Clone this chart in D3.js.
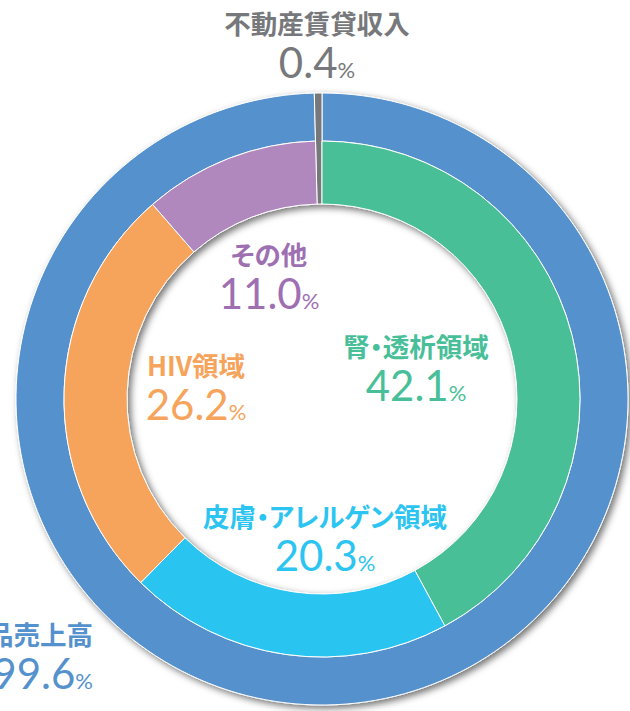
<!DOCTYPE html>
<html>
<head>
	<meta charset="utf-8">
	<title>売上構成</title>
	<style>
		html, body { margin: 0; padding: 0; background: #fff; overflow: hidden; }
		.cap { font-family: "Noto Sans CJK JP", sans-serif; font-weight: 700; font-size: 26.5px; font-feature-settings: "palt"; }
		.num { font-family: Lato, "Noto Sans", sans-serif; font-size: 42px; }
		.pct { font-size: 22px; }
	</style>
</head>
<body>
	<svg width="630" height="711"></svg>
<script src="https://cdn.jsdelivr.net/npm/d3@7"></script>
<script>
	// 外側：売上の内訳
	const outerNames  = ["製品売上高", "不動産賃貸収入"]
	const outerValues = [99.6, 0.4]
	// 内側：製品売上高の領域別
	const innerNames  = ["腎・透析領域", "皮膚・アレルゲン領域", "HIV領域", "その他"]
	const innerValues = [42.1, 20.3, 26.2, 11.0]

	const colors = {
		"製品売上高": "#5591cc", "不動産賃貸収入": "#77787b",
		"腎・透析領域": "#48bf98", "皮膚・アレルゲン領域": "#2cc4f1",
		"HIV領域": "#f6a35b", "その他": "#b088bd"
	}
	const textColors = Object.assign({}, colors, { "その他": "#9e70b1" })
	// ラベル位置（中心からのずれ）
	const labelPos = {
		"不動産賃貸収入": [-5, -365, "middle"],
		"製品売上高": [-229, 246, "end"],
		"腎・透析領域": [94, -42, "middle"],
		"皮膚・アレルゲン領域": [3, 128, "middle"],
		"HIV領域": [-126, -23, "middle"],
		"その他": [-53, -134, "middle"]
	}

	const cx = 322, cy = 399
	const R = 306, rMid = 258, rHole = 195

	const svg = d3.select("svg")
	const defs = svg.append("defs")
	const f = defs.append("filter").attr("id", "shadow")
		.attr("x", "-10%").attr("y", "-10%").attr("width", "120%").attr("height", "120%")
	f.append("feDropShadow").attr("dx", 3).attr("dy", 3).attr("stdDeviation", 3.5)
		.attr("flood-color", "#000").attr("flood-opacity", 0.55)

	const g = svg.append("g").attr("transform", `translate(${cx},${cy})`)
	const rings = g.append("g").attr("filter", "url(#shadow)")

	const pie = d3.pie().sort(null).value(d => d.value)
	const outer = pie(outerNames.map((n, i) => ({ name: n, value: outerValues[i] })))
	// 内側は不動産の分も含めて角度を合わせる
	const innerData = innerNames.map((n, i) => ({ name: n, value: innerValues[i] }))
		.concat([{ name: outerNames[1], value: outerValues[1] }])
	const inner = pie(innerData).filter(d => d.data.name !== outerNames[1])

	const arc = d3.arc()
	rings.selectAll("path.outer").data(outer).enter().append("path")
		.attr("class", "outer")
		.attr("fill", d => colors[d.data.name])
		.attr("stroke", "#fff").attr("stroke-width", 1)
		.attr("d", d => arc.innerRadius(d.index === 1 ? rHole : rMid).outerRadius(R)(d))
	rings.selectAll("path.inner").data(inner).enter().append("path")
		.attr("class", "inner")
		.attr("fill", d => colors[d.data.name])
		.attr("stroke", "#fff").attr("stroke-width", 1)
		.attr("d", d => arc.innerRadius(rHole).outerRadius(rMid)(d))
	// 灰色を上に
	rings.select("path.outer:last-of-type").raise()

	// ラベル
	const labels = outerNames.map((n, i) => ({ name: n, value: outerValues[i] }))
		.concat(innerNames.map((n, i) => ({ name: n, value: innerValues[i] })))
	const lg = g.selectAll("g.label").data(labels).enter().append("g")
		.attr("class", "label")
		.attr("transform", d => `translate(${labelPos[d.name][0]},${labelPos[d.name][1]})`)
		.attr("text-anchor", d => labelPos[d.name][2])
		.attr("fill", d => textColors[d.name])
	lg.append("text").attr("class", "cap").text(d => d.name)
	const nt = lg.append("text").attr("class", "num").attr("y", 44)
	nt.append("tspan").text(d => d.value.toFixed(1))
	nt.append("tspan").attr("class", "pct").text("%")
</script>
</body>
</html>
